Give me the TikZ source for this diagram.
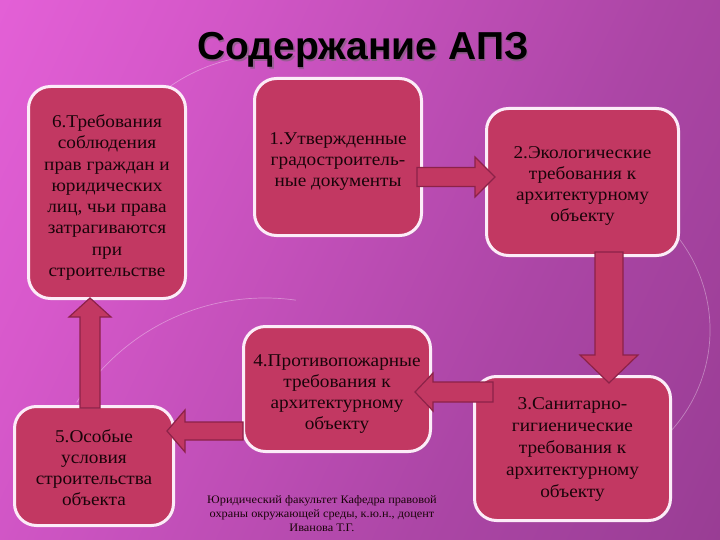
\documentclass[tikz,border=0pt]{standalone}
\usepackage{fontspec}
\setmainfont[FakeStretch=1.07]{Liberation Serif}
\newfontfamily\titlefont{Liberation Sans}
\usetikzlibrary{calc,shadows}
\definecolor{bgA}{RGB}{244,106,230}
\definecolor{bgB}{RGB}{214,88,202}
\definecolor{bgC}{RGB}{172,70,166}
\definecolor{bgD}{RGB}{138,54,134}
\definecolor{boxfill}{RGB}{194,56,98}
\definecolor{boxline}{RGB}{252,236,248}
\definecolor{arrline}{RGB}{140,34,72}
\definecolor{txt}{RGB}{26,4,10}
\pgfdeclarehorizontalshading{bgshade}{100bp}{color(0bp)=(bgA); color(30bp)=(bgB); color(62bp)=(bgC); color(100bp)=(bgD)}
\tikzset{
  box/.style={draw=boxline, line width=3pt, fill=boxfill, rounded corners=22pt,
    inner sep=0pt,
    drop shadow={opacity=0.3, shadow xshift=1.5pt, shadow yshift=-1.5pt}},
  boxtext/.style={text=txt, align=center, font=\fontsize{18}{21}\selectfont, inner sep=0pt},
  blockarr/.style={fill=boxfill, draw=arrline, line width=1.2pt, line join=miter},
  deco/.style={draw=white, opacity=0.35, line width=0.7pt},
}
\begin{document}
\begin{tikzpicture}[x=1pt,y=-1pt]
\useasboundingbox (0,0) rectangle (720,540);
\shade[shading=bgshade, shading angle=-25] (0,0) rectangle (720,540);
% decorative arcs
\draw[deco] (270,230) ++(215:175) arc (215:265:175);
\draw[deco] (265,520) ++(212:222) arc (212:278:222);
\draw[deco] (560,330) ++(-65:150) arc (-65:70:150);
% title
\node[text=black!60, opacity=0.5, font=\titlefont\bfseries\fontsize{39}{44}\selectfont] at (364.5,51.5) {Содержание АПЗ};
\node (title) [text=black, font=\titlefont\bfseries\fontsize{39}{44}\selectfont] at (363,50) {Содержание АПЗ};
% boxes
\node (b6) [box, minimum width=157pt, minimum height=212pt] at (107,192.5) {};
\node (b1) [box, minimum width=167pt, minimum height=157pt] at (338,157) {};
\node (b2) [box, minimum width=192pt, minimum height=147pt] at (582.5,182) {};
\node (b3) [box, minimum width=196pt, minimum height=144pt] at (572.5,448.5) {};
\node (b4) [box, minimum width=187pt, minimum height=125pt] at (337,389) {};
\node (b5) [box, minimum width=159pt, minimum height=119pt] at (94,466) {};
% box texts
\node (t6) [boxtext, font=\fontsize{18}{21.3}\selectfont] at ($(b6.center)+(0,5)$)
  {6.Требования\\соблюдения\\прав граждан и\\юридических\\лиц, чьи права\\затрагиваются\\при\\строительстве};
\node (t1) [boxtext] at ($(b1.center)+(0,5)$)
  {1.Утвержденные\\градостроитель-\\ные документы};
\node (t2) [boxtext] at ($(b2.center)+(0,4)$)
  {2.Экологические\\требования к\\архитектурному\\объекту};
\node (t3) [boxtext, font=\fontsize{18}{22}\selectfont] at ($(b3.center)+(0,1)$)
  {3.Санитарно-\\гигиенические\\требования к\\архитектурному\\объекту};
\node (t4) [boxtext] at ($(b4.center)+(0,5)$)
  {4.Противопожарные\\требования к\\архитектурному\\объекту};
\node (t5) [boxtext] at ($(b5.center)+(0,2)$)
  {5.Особые\\условия\\строительства\\объекта};
% footer
\node (foot) [text=txt, align=center, font=\fontsize{11.5}{14}\selectfont] at (322,514)
  {Юридический факультет Кафедра правовой\\охраны окружающей среды, к.ю.н., доцент\\Иванова Т.Г.};
% arrow end points
\coordinate (aS) at (417,177);  \coordinate (aT) at (495,177);
\coordinate (bS) at (609,252);  \coordinate (bT) at (609,383);
\coordinate (cS) at (493,392);  \coordinate (cT) at (415,392);
\coordinate (dS) at (243,431);  \coordinate (dT) at (167,431);
\coordinate (eS) at (90,408);   \coordinate (eT) at (90,298);
% 1 -> 2
\draw[blockarr] ($(aS)+(0,-9.5)$) -- ($(aT)+(-20,-9.5)$) -- ($(aT)+(-20,-20)$) -- (aT)
  -- ($(aT)+(-20,20)$) -- ($(aT)+(-20,9.5)$) -- ($(aS)+(0,9.5)$) -- cycle;
% 2 -> 3
\draw[blockarr] ($(bS)+(-14,0)$) -- ($(bT)+(-14,-28)$) -- ($(bT)+(-29,-28)$) -- (bT)
  -- ($(bT)+(29,-28)$) -- ($(bT)+(14,-28)$) -- ($(bS)+(14,0)$) -- cycle;
% 3 -> 4
\draw[blockarr] ($(cS)+(0,-10)$) -- ($(cT)+(18,-10)$) -- ($(cT)+(18,-19)$) -- (cT)
  -- ($(cT)+(18,19)$) -- ($(cT)+(18,10)$) -- ($(cS)+(0,10)$) -- cycle;
% 4 -> 5
\draw[blockarr] ($(dS)+(0,-9)$) -- ($(dT)+(18,-9)$) -- ($(dT)+(18,-21)$) -- (dT)
  -- ($(dT)+(18,21)$) -- ($(dT)+(18,9)$) -- ($(dS)+(0,9)$) -- cycle;
% 5 -> 6
\draw[blockarr] ($(eS)+(-10,0)$) -- ($(eT)+(-10,19)$) -- ($(eT)+(-21,19)$) -- (eT)
  -- ($(eT)+(21,19)$) -- ($(eT)+(10,19)$) -- ($(eS)+(10,0)$) -- cycle;
\end{tikzpicture}
\end{document}
